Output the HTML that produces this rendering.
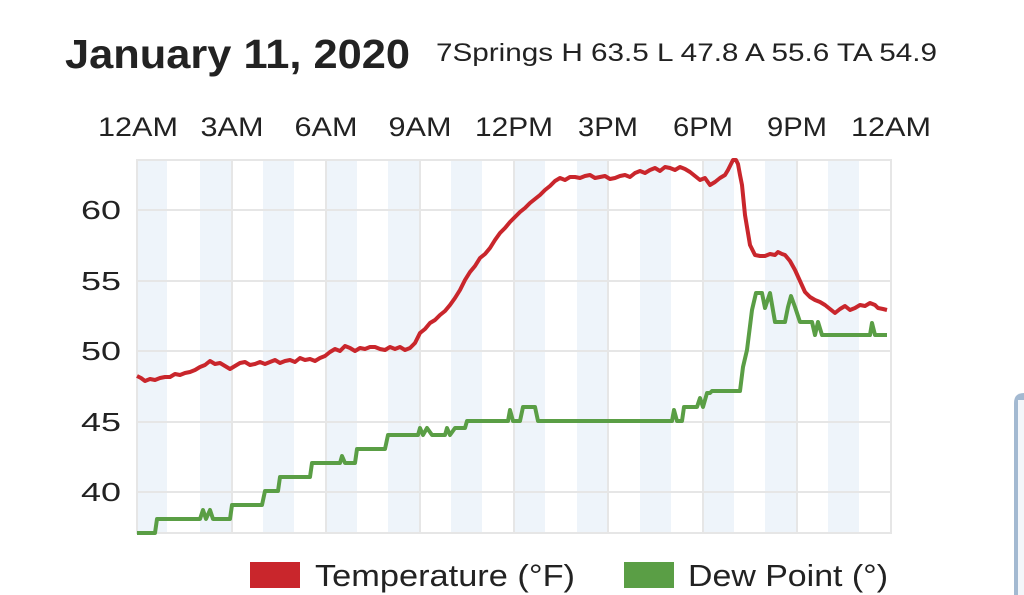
<!DOCTYPE html>
<html><head><meta charset="utf-8"><style>
html,body{margin:0;padding:0;background:#fff;}
svg{display:block;font-family:"Liberation Sans",sans-serif;}
</style></head><body>
<svg width="1024" height="595" viewBox="0 0 1024 595" xmlns="http://www.w3.org/2000/svg">
<rect width="1024" height="595" fill="#fff"/>
<text x="65" y="68" font-size="41" font-weight="bold" fill="#222" textLength="345" lengthAdjust="spacingAndGlyphs">January 11, 2020</text>
<text x="436" y="61" font-size="25" fill="#222" textLength="501" lengthAdjust="spacingAndGlyphs">7Springs H 63.5 L 47.8 A 55.6 TA 54.9</text>
<g font-size="27" fill="#222" text-anchor="middle">
<text x="138" y="136" textLength="80" lengthAdjust="spacingAndGlyphs">12AM</text><text x="232" y="136" textLength="63" lengthAdjust="spacingAndGlyphs">3AM</text><text x="326" y="136" textLength="63" lengthAdjust="spacingAndGlyphs">6AM</text>
<text x="420" y="136" textLength="63" lengthAdjust="spacingAndGlyphs">9AM</text><text x="514" y="136" textLength="78" lengthAdjust="spacingAndGlyphs">12PM</text><text x="608" y="136" textLength="60" lengthAdjust="spacingAndGlyphs">3PM</text>
<text x="703" y="136" textLength="60" lengthAdjust="spacingAndGlyphs">6PM</text><text x="797" y="136" textLength="60" lengthAdjust="spacingAndGlyphs">9PM</text><text x="891" y="136" textLength="80" lengthAdjust="spacingAndGlyphs">12AM</text>
</g>
<g fill="#eef4fa">
<rect x="137" y="160" width="30" height="373"/><rect x="200" y="160" width="31" height="373"/>
<rect x="263" y="160" width="31" height="373"/><rect x="326" y="160" width="31" height="373"/>
<rect x="388" y="160" width="31" height="373"/><rect x="451" y="160" width="31" height="373"/>
<rect x="514" y="160" width="31" height="373"/><rect x="577" y="160" width="31" height="373"/>
<rect x="640" y="160" width="31" height="373"/><rect x="703" y="160" width="31" height="373"/>
<rect x="765" y="160" width="31" height="373"/><rect x="828" y="160" width="31" height="373"/>
</g>
<g stroke="#e6e6e6" stroke-width="2" fill="none">
<rect x="137" y="160" width="754" height="373"/>
<line x1="137" y1="210" x2="891" y2="210"/><line x1="137" y1="281" x2="891" y2="281"/>
<line x1="137" y1="351" x2="891" y2="351"/><line x1="137" y1="422" x2="891" y2="422"/>
<line x1="137" y1="492" x2="891" y2="492"/>
<line x1="232" y1="160" x2="232" y2="533"/><line x1="326" y1="160" x2="326" y2="533"/>
<line x1="420" y1="160" x2="420" y2="533"/><line x1="514" y1="160" x2="514" y2="533"/>
<line x1="608" y1="160" x2="608" y2="533"/><line x1="703" y1="160" x2="703" y2="533"/>
<line x1="797" y1="160" x2="797" y2="533"/>
</g>
<g font-size="26" fill="#222" text-anchor="end">
<text x="121" y="219" textLength="40" lengthAdjust="spacingAndGlyphs">60</text><text x="121" y="290" textLength="40" lengthAdjust="spacingAndGlyphs">55</text><text x="121" y="360" textLength="40" lengthAdjust="spacingAndGlyphs">50</text>
<text x="121" y="431" textLength="40" lengthAdjust="spacingAndGlyphs">45</text><text x="121" y="501" textLength="40" lengthAdjust="spacingAndGlyphs">40</text>
</g>
<polyline fill="none" stroke="#5a9e45" stroke-width="4" stroke-linejoin="round" points="137,533 155,533 157,519 200,519 203,510 206,519 210,510 213,519 230,519 232,505 262,505 265,491 278,491 280,477 310,477 312,463 340,463 342,456 345,463 355,463 357,449 385,449 388,435 418,435 420,428 423,435 427,428 432,435 445,435 447,428 450,435 455,428 465,428 467,421 508,421 510,410 513,421 520,421 523,407 535,407 538,421 672,421 674,410 677,421 682,421 684,407 697,407 700,398 703,407 707,393 710,393 712,391 740,391 743,367 747,350 752,310 756,293 762,293 765,308 770,293 775,322 785,322 788,307 791,296 795,307 800,322 812,322 815,335 818,322 822,335 870,335 872,323 875,335 887,335"/>
<polyline fill="none" stroke="#c9262c" stroke-width="4" stroke-linejoin="round" points="137,376 141,378 145,381 150,379 155,380 160,378 165,377 170,377 175,374 180,375 185,373 190,372 195,370 200,367 205,365 210,361 215,364 220,363 225,366 230,369 235,366 240,363 245,362 250,365 255,364 260,362 265,364 270,362 275,360 280,363 285,361 290,360 295,362 300,358 305,360 310,359 315,361 320,358 325,356 330,352 335,349 340,351 345,346 350,348 355,351 360,348 365,349 370,347 375,347 380,349 385,350 390,347 395,349 400,347 405,350 410,348 415,343 420,333 425,329 430,323 435,320 440,315 445,311 450,305 455,298 460,290 465,280 470,272 475,266 480,258 485,254 490,248 495,240 500,233 505,228 510,222 515,217 520,212 525,208 530,203 535,199 540,195 545,190 550,186 555,181 560,178 565,180 570,177 575,177 580,178 585,176 590,175 595,178 600,177 605,176 610,179 615,178 620,176 625,175 630,177 635,173 640,171 645,173 650,170 655,168 660,171 665,167 670,168 675,170 680,167 685,169 690,172 695,176 700,180 705,178 710,185 715,182 720,178 725,175 728,170 731,164 733,160 736,160 738,164 740,175 742,185 745,215 750,245 755,255 760,256 765,256 770,254 775,255 778,252 782,254 785,255 790,261 795,270 800,281 805,292 810,297 815,300 820,302 825,305 830,309 835,313 840,309 845,306 850,310 855,308 860,305 865,306 870,303 875,305 878,308 883,309 887,310"/>
<rect x="250" y="562" width="50" height="26" fill="#c9262c"/>
<text x="315" y="586" font-size="31" fill="#222" textLength="260" lengthAdjust="spacingAndGlyphs">Temperature (°F)</text>
<rect x="624" y="562" width="50" height="26" fill="#5a9e45"/>
<text x="688" y="586" font-size="31" fill="#222" textLength="200" lengthAdjust="spacingAndGlyphs">Dew Point (°)</text>
<path d="M1024,393 L1024,595 L1014,595 L1014,403 Q1014,393 1024,393 Z" fill="#a3b9d1"/>
<rect x="1018" y="400" width="6" height="195" fill="#f3f6fa"/>
</svg>
</body></html>
